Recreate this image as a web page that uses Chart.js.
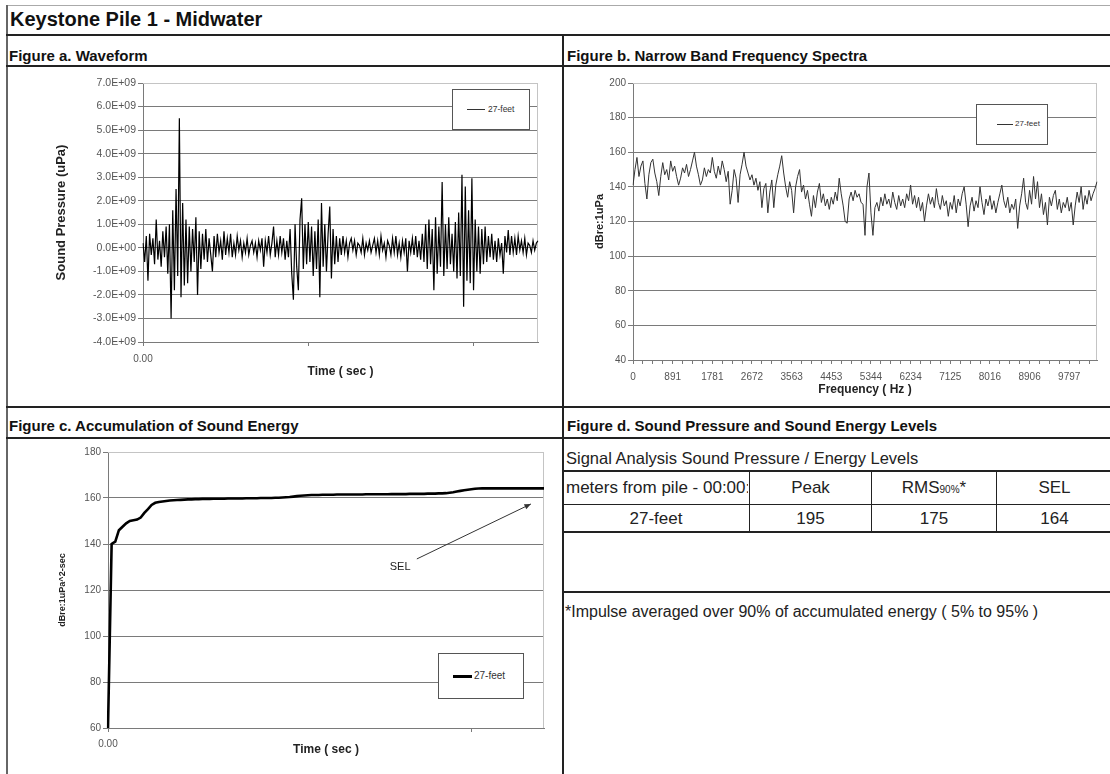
<!DOCTYPE html>
<html>
<head>
<meta charset="utf-8">
<title>Keystone Pile 1 - Midwater</title>
<script src="https://cdn.jsdelivr.net/npm/chart.js@4.4.1/dist/chart.umd.min.js"></script>
<style>
  body { margin: 0; background: #fff; font-family: Arial, "Liberation Sans", sans-serif; }
  #page { position: relative; width: 1110px; height: 774px; overflow: hidden; background: #fff; }
  .ln { position: absolute; background: #222; }
  .txt { position: absolute; white-space: nowrap; color: #111; }
  .head { font-weight: bold; font-size: 15px; line-height: 18px; }
  .plot { position: absolute; }
  .legend { position: absolute; border: 1px solid #555; background: #fff; }
  .legend .sample { position: absolute; background: #333; }
  .legend span { position: absolute; font-size: 8.5px; line-height: 12px; color: #333; white-space: nowrap; }
  .cell { position: absolute; text-align: center; font-size: 17px; line-height: 20px; color: #222; white-space: nowrap; overflow: hidden; }
</style>
</head>
<body>
<div id="page">
  <!-- frame -->
  <div class="ln" style="left:6px;top:5px;width:1104px;height:1px;background:#aaa"></div>
  <div class="ln" style="left:6px;top:5px;width:2px;height:769px;background:#666"></div>
  <div class="txt" style="left:10px;top:8px;font-size:20px;line-height:22px;font-weight:bold">Keystone Pile 1 - Midwater</div>
  <div class="ln" style="left:6px;top:34px;width:1104px;height:2px"></div>
  <div class="txt head" style="left:9px;top:47px">Figure a. Waveform</div>
  <div class="txt head" style="left:567px;top:47px">Figure b. Narrow Band Frequency Spectra</div>
  <div class="ln" style="left:6px;top:65px;width:1104px;height:2px"></div>
  <div class="ln" style="left:562px;top:35px;width:2px;height:739px"></div>
  <div class="ln" style="left:6px;top:406px;width:1104px;height:2px"></div>
  <div class="txt head" style="left:9px;top:417px">Figure c. Accumulation of Sound Energy</div>
  <div class="txt head" style="left:567px;top:417px">Figure d. Sound Pressure and Sound Energy Levels</div>
  <div class="ln" style="left:6px;top:437px;width:1104px;height:2px"></div>

  <!-- figure d table -->
  <div class="txt" style="left:566px;top:448px;font-size:16.5px;line-height:20px;color:#222">Signal Analysis Sound Pressure / Energy Levels</div>
  <div class="ln" style="left:563px;top:470px;width:547px;height:2px"></div>
  <div class="ln" style="left:563px;top:504px;width:547px;height:1px"></div>
  <div class="ln" style="left:563px;top:531px;width:547px;height:2px"></div>
  <div class="ln" style="left:563px;top:591px;width:547px;height:2px"></div>
  <div class="ln" style="left:749px;top:471px;width:1px;height:61px"></div>
  <div class="ln" style="left:871px;top:471px;width:1px;height:61px"></div>
  <div class="ln" style="left:996px;top:471px;width:1px;height:61px"></div>
  <div id="tableCells"></div>
  <div class="txt" style="left:565px;top:602px;font-size:16px;line-height:20px;color:#222">*Impulse averaged over 90% of accumulated energy ( 5% to 95% )</div>

  <!-- charts -->
  <div class="plot" style="left:8px;top:67px;width:552px;height:338px"><canvas id="waveChart"></canvas></div>
  <div class="plot" style="left:565px;top:67px;width:545px;height:338px"><canvas id="specChart"></canvas></div>
  <div class="plot" style="left:8px;top:438px;width:552px;height:336px"><canvas id="selChart"></canvas></div>

  <!-- legends -->
  <div class="legend" style="left:452px;top:89px;width:76px;height:39px">
    <div class="sample" style="left:14px;top:19px;width:18px;height:1px"></div>
    <span class="lg" style="left:35px;top:13px"></span>
  </div>
  <div class="legend" style="left:976px;top:104px;width:70px;height:39px">
    <div class="sample" style="left:20px;top:19px;width:16px;height:1px"></div>
    <span class="lg" style="left:38px;top:13px;font-size:8px"></span>
  </div>
  <div class="legend" style="left:438px;top:653px;width:84px;height:44px">
    <div class="sample" style="left:14px;top:21px;width:19px;height:3px;background:#000"></div>
    <span class="lg" style="left:35px;top:16px;font-size:10px"></span>
  </div>
</div>

<script>
// ---- data ----
const seriesName = "27-feet";

// waveform, sound pressure in units of 1E+09 uPa
const waveform = [
  0.2, -0.6, 0.5, -1.4, 0.6, -0.3, 0.4, -0.7, 1.2, -0.5, 0.3, -0.8, 0.7, -0.4, 0.9, -1.1, 1.0, -3.0, 1.6, -1.8,
  2.5, -1.2, 5.5, -2.1, 1.9, -1.6, 1.2, -1.5, 0.9, -1.0, 0.8, -0.6, 1.3, -2.0, 0.7, -0.9, 0.6, -0.5, 0.8, -0.6,
  0.4, -0.3, -1.0, 0.5, -0.4, 0.6, -0.2, 0.3, -0.5, 0.7, -0.3, 0.4, -0.2, 0.6, -0.4, 0.2, -0.3, 0.5, -0.1, 0.3,
  -0.4, 0.2, -0.2, 0.4, -0.3, 0.1, 0.3, -0.2, 0.2, -0.4, 0.3, -0.1, 0.4, -0.8, 0.3, -0.2, 0.5, -0.3, 0.2, 0.9,
  -0.4, 0.3, -0.3, 0.5, -0.2, 0.4, -0.5, 0.3, -0.4, 0.8, -1.1, -2.2, 1.0, -0.8, -1.8, 1.2, 2.1, -0.9, 1.0, -0.7,
  1.1, -0.6, 0.9, -1.2, 0.7, -0.9, 1.2, -2.1, 1.9, -0.8, 1.0, -1.0, 0.6, 1.75, -1.3, 0.8, -0.7, 0.5, -0.6, 0.4,
  -0.3, 0.5, -0.2, 0.3, -0.4, 0.2, 0.4, -0.1, 0.3, -0.3, 0.2, 0.1, -0.2, 0.4, -0.3, 0.2, -0.1, 0.3, -0.2, 0.1,
  0.4, -0.2, 0.3, -0.3, 0.5, -0.1, 0.2, -0.4, 0.3, 0.1, -0.3, 0.4, -0.2, 0.5, -0.3, 0.2, -0.4, 0.3, -0.2, 0.4,
  -1.0, 0.3, -0.2, 0.4, -0.3, 0.5, -0.4, 0.3, -0.5, 0.6, -0.6, 1.0, -0.9, 1.2, -0.7, 0.8, -1.8, 1.3, -1.1, 0.9,
  -0.8, 2.8, -1.2, 1.0, -0.9, 1.3, -0.7, 0.6, -1.0, 1.1, -1.3, 1.5, -1.2, 3.1, -2.5, 2.6, -1.4, 1.6, -1.5, 2.95,
  -1.8, 1.2, -1.0, 0.9, -1.1, 0.8, -0.7, 0.9, -0.6, 0.5, -0.4, 0.6, -0.5, 0.3, -0.6, 0.4, -0.3, 0.2, -1.1, 0.5,
  -0.2, 0.75, -0.3, 0.5, -0.2, 0.4, -0.3, 0.5, -0.1, 0.3, -0.2, 0.4, -0.3, 0.2, 0.1, -0.2, 0.3, -0.1, 0.2, 0.3
];
const waveTicks = [-4, -3, -2, -1, 0, 1, 2, 3, 4, 5, 6, 7];

// narrow band spectrum, dB re 1uPa, one value per frequency bin
const spectrumDb = [
  141, 150, 157, 146, 152, 155, 142, 133, 147, 154, 156, 148, 143, 135, 146, 154, 147, 150, 144, 155,
  149, 152, 146, 141, 145, 151, 148, 153, 146, 150, 155, 160, 152, 147, 141, 144, 151, 146, 150, 148,
  157, 149, 145, 152, 147, 155, 150, 143, 149, 130, 138, 150, 145, 131, 147, 153, 160, 152, 148, 144,
  147, 141, 145, 138, 143, 128, 139, 142, 125, 137, 144, 128, 141, 147, 152, 158, 148, 140, 134, 143,
  138, 125, 140, 146, 150, 137, 141, 133, 138, 130, 123, 135, 128, 137, 142, 131, 136, 129, 133, 127,
  134, 130, 137, 132, 145, 136, 129, 120, 119, 133, 137, 132, 138, 134, 136, 131, 130, 112, 140, 148,
  125, 112, 128, 131, 126, 134, 129, 136, 130, 133, 128, 137, 131, 127, 135, 129, 133, 128, 136, 132,
  141, 130, 135, 128, 134, 126, 131, 120, 129, 136, 130, 134, 128, 139, 131, 127, 135, 129, 132, 123,
  131, 127, 135, 125, 133, 129, 136, 140, 130, 117, 129, 134, 126, 132, 128, 140, 131, 124, 133, 129,
  135, 127, 132, 125, 131, 136, 141, 132, 128, 134, 125, 130, 127, 133, 116, 129, 136, 145, 131, 127,
  138, 130, 146, 133, 143, 128, 136, 124, 131, 118, 134, 129, 135, 138, 127, 133, 125, 131, 128, 134,
  126, 131, 118, 129, 137, 131, 140, 127, 135, 130, 138, 132, 136, 139, 143
];
const binHz = 44.53125;
const freqTickLabels = ["0", "891", "1781", "2672", "3563", "4453", "5344", "6234", "7125", "8016", "8906", "9797"];
const specTicks = [40, 60, 80, 100, 120, 140, 160, 180, 200];

// accumulated sound energy, dB re 1uPa^2-sec
const accumSel = [
  60, 140, 141, 146, 147.5, 149, 150, 150.3, 150.6, 151.5, 153.5, 155.2, 157, 157.9, 158.3, 158.5, 158.7, 158.9, 159.0, 159.1,
  159.2, 159.3, 159.4, 159.4, 159.5, 159.5, 159.6, 159.6, 159.6, 159.7, 159.7, 159.7, 159.7, 159.8, 159.8, 159.8,
  159.8, 159.8, 159.9, 159.9, 159.9, 159.9, 160.0, 160.0, 160.0, 160.0, 160.1, 160.1, 160.2, 160.3,
  160.4, 160.6, 160.8, 161.0, 161.1, 161.2, 161.3,
  161.3, 161.3, 161.4, 161.4, 161.4, 161.4, 161.5, 161.5, 161.5, 161.5, 161.5, 161.5, 161.5, 161.5, 161.6, 161.6, 161.6, 161.6,
  161.6, 161.6, 161.6, 161.7, 161.7, 161.7, 161.7, 161.7, 161.8, 161.8, 161.8, 161.8, 161.8, 161.9, 161.9, 161.9, 162.0, 162.0, 162.1,
  162.3, 162.5, 162.8, 163.1, 163.4, 163.6, 163.8, 164.0, 164.1, 164.2, 164.2,
  164.2, 164.2, 164.2, 164.2, 164.2, 164.2, 164.2, 164.2, 164.2, 164.2, 164.2, 164.2, 164.2, 164.2, 164.2, 164.2
];
const selTicks = [60, 80, 100, 120, 140, 160, 180];
// "SEL" call-out, in data units (sample index, dB)
const selNote = { text: "SEL", at: [80.4, 130], from: [85, 133.5], to: [116.4, 157.4] };

const sampleSec = 0.0005;
const tableHead = ["meters from pile - 00:00:00", "Peak", "RMS<span style=\"font-size:10px\">90%</span>*", "SEL"];
const tableRow = [seriesName, "195", "175", "164"];

// ---- table ----
const colEdges = [566, 749, 871, 996, 1112];
let cells = "";
tableHead.forEach((h, i) => {
  const align = i === 0 ? "text-align:left;" : "";
  cells += `<div class="cell" style="${align}left:${colEdges[i] + (i ? 1 : 0)}px;top:478px;width:${colEdges[i + 1] - colEdges[i] - 1}px">${h}</div>`;
});
tableRow.forEach((v, i) => {
  const l = i === 0 ? 563 : colEdges[i] + 1;
  cells += `<div class="cell" style="left:${l}px;top:509px;width:${colEdges[i + 1] - l}px">${v}</div>`;
});
document.getElementById("tableCells").innerHTML = cells;
document.querySelectorAll(".lg").forEach(el => el.textContent = seriesName);

// ---- charts ----
Chart.defaults.font.family = 'Arial, "Liberation Sans", sans-serif';
Chart.defaults.animation = false;

const gridDark = "#7a7a7a";
const frameLight = "#c4c4c4";

// light border on top and right of the plot area
const plotFrame = {
  id: "plotFrame",
  beforeDatasetsDraw(chart) {
    const { ctx, chartArea: a } = chart;
    ctx.save();
    ctx.strokeStyle = frameLight;
    ctx.lineWidth = 1;
    ctx.beginPath();
    ctx.moveTo(a.left, a.top + 0.5);
    ctx.lineTo(a.right - 0.5, a.top + 0.5);
    ctx.lineTo(a.right - 0.5, a.bottom);
    ctx.stroke();
    ctx.restore();
  }
};

function yAxis(min, max, step, width, title, titleSize, titlePad, tickSize, fmt) {
  return {
    min: min, max: max,
    afterFit: s => { s.width = width; },
    ticks: { stepSize: step, padding: 2, color: "#555", font: { size: tickSize }, callback: fmt },
    grid: { color: c => (c.tick && c.tick.value === max ? frameLight : gridDark), tickLength: 5, tickColor: gridDark },
    border: { color: gridDark },
    title: { display: true, text: title, color: "#222", font: { size: titleSize, weight: "bold" }, padding: { top: titlePad, bottom: 0 } }
  };
}

function xAxis(height, title, titlePad, tickPad, cb) {
  return {
    afterFit: s => { s.height = height; },
    ticks: { autoSkip: false, maxRotation: 0, padding: tickPad, color: "#555", font: { size: 10 }, callback: cb },
    grid: { drawOnChartArea: false, tickLength: 4, tickColor: gridDark },
    border: { color: gridDark },
    title: { display: true, text: title, color: "#222", font: { size: 12, weight: "bold" }, padding: { top: 0, bottom: titlePad } }
  };
}

const baseOpts = {
  responsive: true,
  maintainAspectRatio: false,
  plugins: { legend: { display: false }, tooltip: { enabled: false } },
  elements: { point: { radius: 0 } }
};

// Figure a
const waveTimes = waveform.map((v, i) => (i * sampleSec).toFixed(2));
new Chart(document.getElementById("waveChart"), {
  type: "line",
  data: { labels: waveTimes, datasets: [{ label: seriesName, data: waveform, borderColor: "#000", borderWidth: 1.2, tension: 0 }] },
  options: Object.assign({}, baseOpts, {
    layout: { padding: { top: 16, right: 22, left: 0, bottom: 0 } },
    scales: {
      x: xAxis(63, "Time ( sec )", 26, 7, (v, i) => (i % 100 === 0 ? (i === 0 ? waveTimes[0] : "") : null)),
      y: yAxis(waveTicks[0], waveTicks[waveTicks.length - 1], 1, 135, "Sound Pressure (uPa)", 13, 46, 10.5,
        v => (v === 0 ? "0.0E+00" : v.toFixed(1) + "E+09"))
    }
  }),
  plugins: [plotFrame]
});

// Figure b
const freqLabels = spectrumDb.map((v, i) => String(Math.round(i * binHz)));
new Chart(document.getElementById("specChart"), {
  type: "line",
  data: { labels: freqLabels, datasets: [{ label: seriesName, data: spectrumDb, borderColor: "#333", borderWidth: 1, tension: 0 }] },
  options: Object.assign({}, baseOpts, {
    layout: { padding: { top: 16, right: 13, left: 0, bottom: 0 } },
    scales: {
      x: xAxis(45, "Frequency ( Hz )", 8, 7, (v, i) => (i % 20 === 0 ? freqTickLabels[i / 20] : (i % 5 === 0 ? "" : null))),
      y: yAxis(specTicks[0], specTicks[specTicks.length - 1], 20, 68, "dBre:1uPa", 11, 28, 10, v => String(v))
    }
  }),
  plugins: [plotFrame]
});

// Figure c
const selTimes = accumSel.map((v, i) => (i * sampleSec * 2).toFixed(2));
const selCallout = {
  id: "selCallout",
  afterDatasetsDraw(chart) {
    const { ctx, scales: { x, y } } = chart;
    const p = pt => [x.getPixelForValue(pt[0]), y.getPixelForValue(pt[1])];
    const [x1, y1] = p(selNote.from), [x2, y2] = p(selNote.to), [tx, ty] = p(selNote.at);
    ctx.save();
    ctx.strokeStyle = "#333";
    ctx.fillStyle = "#333";
    ctx.lineWidth = 1;
    ctx.beginPath(); ctx.moveTo(x1, y1); ctx.lineTo(x2, y2); ctx.stroke();
    const ang = Math.atan2(y2 - y1, x2 - x1);
    ctx.beginPath();
    ctx.moveTo(x2, y2);
    ctx.lineTo(x2 - 7 * Math.cos(ang - 0.4), y2 - 7 * Math.sin(ang - 0.4));
    ctx.lineTo(x2 - 7 * Math.cos(ang + 0.4), y2 - 7 * Math.sin(ang + 0.4));
    ctx.closePath(); ctx.fill();
    ctx.font = "11px Arial, 'Liberation Sans', sans-serif";
    ctx.fillStyle = "#222";
    ctx.textAlign = "center"; ctx.textBaseline = "middle";
    ctx.fillText(selNote.text, tx, ty);
    ctx.restore();
  }
};
new Chart(document.getElementById("selChart"), {
  type: "line",
  data: { labels: selTimes, datasets: [{ label: seriesName, data: accumSel, borderColor: "#000", borderWidth: 2.6, tension: 0 }] },
  options: Object.assign({}, baseOpts, {
    layout: { padding: { top: 14, right: 16, left: 0, bottom: 0 } },
    scales: {
      x: xAxis(46, "Time ( sec )", 17, 6, (v, i) => (i % 100 === 0 ? (i === 0 ? selTimes[0] : "") : null)),
      y: yAxis(selTicks[0], selTicks[selTicks.length - 1], 20, 100, "dBre:1uPa^2-sec", 9, 49, 10, v => String(v))
    }
  }),
  plugins: [plotFrame, selCallout]
});
</script>
</body>
</html>
